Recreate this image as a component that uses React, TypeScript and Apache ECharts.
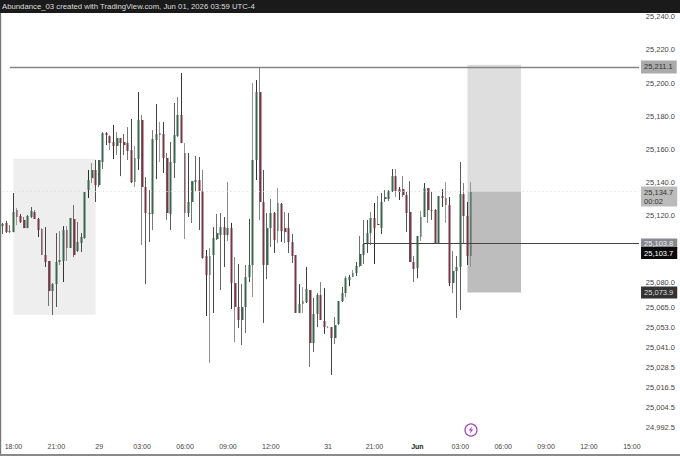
import React, { useEffect, useRef } from "react";
import * as echarts from "echarts";

// 15-minute candles as [open, close, low, high], offset from priceBase.
const priceBase = 25000;
const candlesMay28: number[][] = [
  [113.9,115.2,109.1,115.8],[115.8,110.3,109.7,117.0],[110.3,110.9,109.7,114.5],[110.3,122.4,110.3,133.8],
  [123.6,119.4,114.5,124.8],[120.0,116.4,115.8,121.2],[117.6,112.7,112.7,119.4],[112.7,120.0,112.7,120.6],
  [119.4,123.0,118.8,125.4],[122.4,118.2,118.2,123.6],[118.2,111.5,107.3,118.8],[112.1,96.5,96.5,112.7],
  [96.5,92.3,89.3,113.3],[92.9,74.8,65.8,92.9],[74.8,79.0,60.4,79.6],[79.0,92.3,65.2,109.7],
  [92.3,93.5,90.5,110.9],[92.9,111.5,80.2,113.9],[111.5,100.7,92.9,113.9],[100.7,118.8,100.7,118.8],
  [118.2,96.5,95.3,126.6],[98.9,104.3,98.3,116.4],[103.7,107.3,98.3,109.7],[106.7,134.4,106.1,134.4],
  [135.6,141.6,130.8,147.7],[142.8,147.7,139.8,151.9],[147.7,138.6,128.4,153.7],
];
const candlesMay29Morning: number[][] = [
  [138.6,153.7,137.4,153.7],[152.5,169.9,148.3,170.5],[169.9,168.7,162.7,170.5],[168.1,163.9,159.7,168.7],
  [164.5,162.1,154.3,174.8],[162.1,166.9,156.7,170.5],[166.9,163.9,144.0,166.9],[164.5,162.7,156.7,169.3],
  [163.9,159.1,153.7,173.5],[159.7,140.4,139.8,178.4],[140.4,154.9,137.4,162.1],[154.3,177.8,147.7,194.6],
  [177.8,137.4,102.5,180.8],[137.4,121.8,79.0,143.4],[121.2,121.8,104.3,135.6],[121.2,166.3,111.5,171.7],
  [165.7,169.3,142.2,187.4],[169.9,168.7,152.5,176.6],[169.3,154.9,145.9,176.6],[154.9,121.8,117.6,157.9],
  [121.2,152.5,111.5,164.5],[151.9,168.7,142.8,188.0],[168.1,180.8,167.5,191.6],[180.8,163.9,163.9,206.1],
  [157.9,121.8,106.1,163.9],[121.8,128.4,119.4,157.9],[128.4,141.0,115.8,141.0],[140.4,141.6,135.0,156.1],
  [141.6,135.0,111.5,155.5],[135.0,94.7,94.1,147.7],[95.9,84.4,59.8,99.5],[84.4,95.9,31.5,100.7],
];
const candlesMay29Midday: number[][] = [
  [96.5,106.7,61.6,113.3],[106.1,109.7,105.5,121.2],[108.5,113.3,75.4,121.8],[113.3,108.5,89.3,119.4],
  [108.5,112.7,104.9,140.4],[112.7,79.6,64.0,115.8],[79.6,65.2,44.1,95.3],[65.2,57.4,52.5,91.1],
  [57.4,65.2,42.3,79.0],[65.2,83.2,49.5,90.5],[83.2,90.5,80.2,118.2],[90.5,153.7,71.2,200.0],
  [153.7,194.6,141.6,201.8],[194.6,128.4,117.6,209.7],[128.4,90.5,55.6,147.7],[90.5,112.7,82.0,121.8],
  [112.7,121.8,101.3,130.2],[121.8,105.5,97.7,122.4],[110.9,127.8,103.7,136.8],[127.2,110.9,104.3,127.8],
  [112.7,110.3,103.7,122.4],[112.7,104.3,97.7,121.8],[104.3,95.9,91.7,109.1],[96.5,61.6,61.6,96.5],
  [61.6,67.0,61.6,79.0],[67.0,68.8,61.6,77.2],[68.2,76.0,67.6,89.3],[75.4,43.5,29.1,75.4],
  [43.5,61.0,38.1,70.6],[61.0,72.4,53.1,73.6],[72.4,57.4,57.4,80.2],[56.8,53.1,49.0,76.6],
];
const candlesMay31: number[][] = [
  [53.2,53.0,52.5,53.7],[53.1,46.5,24.3,53.1],[46.5,54.3,42.9,59.2],[55.0,68.8,54.3,68.8],
  [68.8,73.6,68.2,77.2],[73.6,82.6,71.2,83.8],[81.4,83.2,77.8,84.4],[83.2,85.7,83.2,87.5],
  [85.7,89.9,83.8,92.3],[89.9,97.1,89.3,107.9],[96.5,103.1,91.1,117.6],[103.1,109.7,97.7,117.6],
  [109.7,118.8,102.5,122.4],[118.8,112.7,91.1,127.8],[115.2,114.5,114.5,132.0],[112.7,128.4,109.1,133.8],
  [130.2,131.4,128.4,135.6],[130.2,135.0,129.0,135.6],[135.0,144.0,134.4,148.3],[144.0,135.0,131.4,148.3],
  [136.2,134.4,129.6,137.4],[136.2,132.6,131.4,144.0],[132.6,121.8,110.3,134.4],[122.4,92.3,92.3,141.0],
];
const candlesJun1: number[][] = [
  [92.3,88.1,80.2,95.9],[88.7,107.9,82.6,107.9],[107.3,119.4,104.9,123.0],[119.4,136.8,119.4,139.8],
  [136.8,123.6,115.8,136.8],[123.0,123.6,117.6,134.4],[123.6,103.7,103.1,124.2],[103.7,132.0,103.1,132.0],
  [132.0,130.8,125.4,136.2],[130.8,126.6,115.8,140.4],[126.6,79.6,77.8,131.4],[79.6,86.9,73.6,98.9],
  [86.9,89.3,58.6,95.9],[89.3,133.2,63.4,152.5],[133.2,120.0,103.7,139.8],[120.0,95.9,90.5,128.4],
  [95.9,134.7,89.3,140.4],
];

const slotCount = 179;
const timeTickIndex = [3, 15, 27, 39, 51, 63, 75, 91, 104, 116, 128, 140, 152, 164, 176];
const timeTickLabels = ["18:00", "21:00", "29", "03:00", "06:00", "09:00", "12:00", "31", "21:00", "{b|Jun}", "03:00", "06:00", "09:00", "12:00", "15:00"];
const priceTicks = [25240, 25220, 25200, 25180, 25160, 25140, 25120, 25080, 25065, 25053, 25041, 25028.5, 25016.5, 25004.5, 24992.5];

const highLevel = 25211.1;
const highLine = 25209.7;
const currentPrice = 25134.7;
const countdown = "00:02";
const entryLevel = 25103.8;
const entryLine = 25103.4;
const lastClose = 25103.7;
const stopLevel = 25073.9;
const targetTop = 25211.1;
const zoneTop = 25154.5;
const zoneBottom = 25060.5;

const titleText = "Abundance_03 created with TradingView.com, Jun 01, 2026 03:59 UTC-4";

const fontFamily = '"Liberation Sans", Arial, sans-serif';
const candles = [...candlesMay28, ...candlesMay29Morning, ...candlesMay29Midday, ...candlesMay31, ...candlesJun1];
const categories = Array.from({ length: slotCount }, (_, i) => String(i));
const real = (n: number) => Math.round((priceBase + n) * 10) / 10;
const fmt = (v: number) => v.toLocaleString("en-US", { minimumFractionDigits: 1, maximumFractionDigits: 1 });

const BAND = 3.575;
const wickShade = (i: number) => {
  const f = (2.7 + i * BAND) % 1;
  const g = Math.round(45 + 110 * Math.min(1, Math.abs(f - 0.5) * 2));
  return `rgb(${g},${g},${g})`;
};

const wickData = candles.map((c, i) => {
  const col = wickShade(i);
  return {
    value: [real(c[0]), real(c[1]), real(c[2]), real(c[3])],
    itemStyle: { color: "transparent", color0: "transparent", borderColor: col, borderColor0: col, borderColorDoji: col },
  };
});
const bodyData = candles.map((c) => [real(c[0]), real(c[1]), real(Math.min(c[0], c[1])), real(Math.max(c[0], c[1]))]);

const level = (
  from: number,
  value: number,
  color: string,
  width: number,
  text: string,
  bg: string,
  fg: string,
  type: any = "solid",
  offsetY = 0,
  padding = [1, 4, 0, 3],
) => [
  {
    coord: [from, value],
    lineStyle: { color, width, type },
    label: {
      show: true,
      position: "end",
      distance: 2,
      offset: [0, offsetY],
      backgroundColor: bg,
      color: fg,
      fontFamily,
      fontSize: 7.5,
      lineHeight: 9,
      padding,
      formatter: text,
    },
  },
  { coord: [slotCount - 1, value] },
];

const App = () => {
  const ref = useRef<HTMLDivElement>(null);
  useEffect(() => {
    if (!ref.current) return;
    const chart = echarts.init(ref.current, undefined, { renderer: "svg" });
    chart.setOption({
      animation: false,
      backgroundColor: "#ffffff",
      textStyle: { fontFamily },
      grid: { left: 0.91, top: 13, width: slotCount * BAND, height: 440, containLabel: false },
      xAxis: {
        type: "category",
        data: categories,
        boundaryGap: true,
        axisLine: { show: false },
        axisTick: { show: false },
        splitLine: { show: false },
        axisLabel: {
          inside: true,
          margin: 3,
          fontSize: 7,
          fontFamily,
          color: "#444",
          interval: (i: number) => timeTickIndex.includes(i),
          formatter: (_: string, i: number) => {
            const k = timeTickIndex.indexOf(i);
            return k >= 0 ? timeTickLabels[k] : "";
          },
          rich: { b: { fontWeight: "bold", fontSize: 7, color: "#222", fontFamily } },
        },
      },
      yAxis: {
        type: "value",
        position: "right",
        min: 24977.3,
        max: 25242.2,
        scale: true,
        axisLine: { show: false },
        axisTick: { show: false },
        splitLine: { show: false },
        axisLabel: {
          customValues: priceTicks,
          hideOverlap: false,
          margin: 5,
          fontSize: 7.5,
          fontFamily,
          color: "#444",
          formatter: (v: number) => fmt(v),
        },
      },
      series: [
        {
          type: "candlestick",
          name: "Wicks",
          z: 2,
          barWidth: 1,
          data: wickData,
          itemStyle: { borderWidth: 1 },
          markArea: {
            silent: true,
            data: [
              [{ coord: [3, zoneTop], itemStyle: { color: "#eeeeee" } }, { coord: [26, zoneBottom] }],
              [{ coord: [130, targetTop], itemStyle: { color: "#dedede" } }, { coord: [145, currentPrice] }],
              [{ coord: [130, currentPrice], itemStyle: { color: "#bdbdbd" } }, { coord: [145, stopLevel] }],
            ],
          },
        },
        {
          type: "candlestick",
          name: "Bodies",
          z: 3,
          barWidth: 2.4,
          data: bodyData,
          itemStyle: { color: "#3a6651", color0: "#763646", borderColor: "#3a6651", borderColor0: "#763646", borderColorDoji: "#444", borderWidth: 0 },
          markLine: {
            silent: true,
            symbol: "none",
            precision: 1,
            data: [
              level(2, highLine, "#858585", 1.4, fmt(highLevel), "#aaaaaa", "#333", "solid", 0, [1, 4, 3, 3]),
              level(0, currentPrice, "#d8d8d8", 1, `${fmt(currentPrice)}\n${countdown}`, "#bbbbbb", "#333", [1, 3], 5, [2, 4, 0, 3]),
              level(101, entryLine, "#444444", 1.2, fmt(entryLevel), "#888890", "#eee"),
              level(177, lastClose, "transparent", 1, fmt(lastClose), "#0a0a0a", "#fff", "solid", 10, [2, 4, 1, 3]),
              level(177, stopLevel, "transparent", 1, fmt(stopLevel), "#333333", "#ddd", "solid", 0, [2, 4, 1, 3]),
            ],
          },
        },
      ],
      graphic: [
        { type: "rect", silent: true, z: 20, shape: { x: 0, y: 0, width: 680, height: 13 }, style: { fill: "#1a1a1a" } },
        { type: "text", silent: true, z: 21, x: 2, y: 2.5, style: { text: titleText, fill: "#dddddd", font: `7.75px ${fontFamily}` } },
        { type: "rect", silent: true, z: 20, shape: { x: 0, y: 13, width: 1.2, height: 441 }, style: { fill: "#777777" } },
        { type: "rect", silent: true, z: 20, shape: { x: 0, y: 454, width: 680, height: 2 }, style: { fill: "#8a8a8a" } },
        { type: "circle", silent: true, z: 20, shape: { cx: 471, cy: 430, r: 6 }, style: { fill: "#ffffff", stroke: "#a044c0", lineWidth: 1.2 } },
        {
          type: "polygon",
          silent: true,
          z: 21,
          shape: { points: [[472.2, 426.2], [468.8, 430.6], [470.8, 430.6], [469.8, 433.8], [473.2, 429.4], [471.2, 429.4]] },
          style: { fill: "#a044c0" },
        },
      ],
    });
    return () => chart.dispose();
  }, []);
  return <div ref={ref} style={{ position: "fixed", left: 0, top: 0, width: 680, height: 456, background: "#fff" }} />;
};

export default App;
